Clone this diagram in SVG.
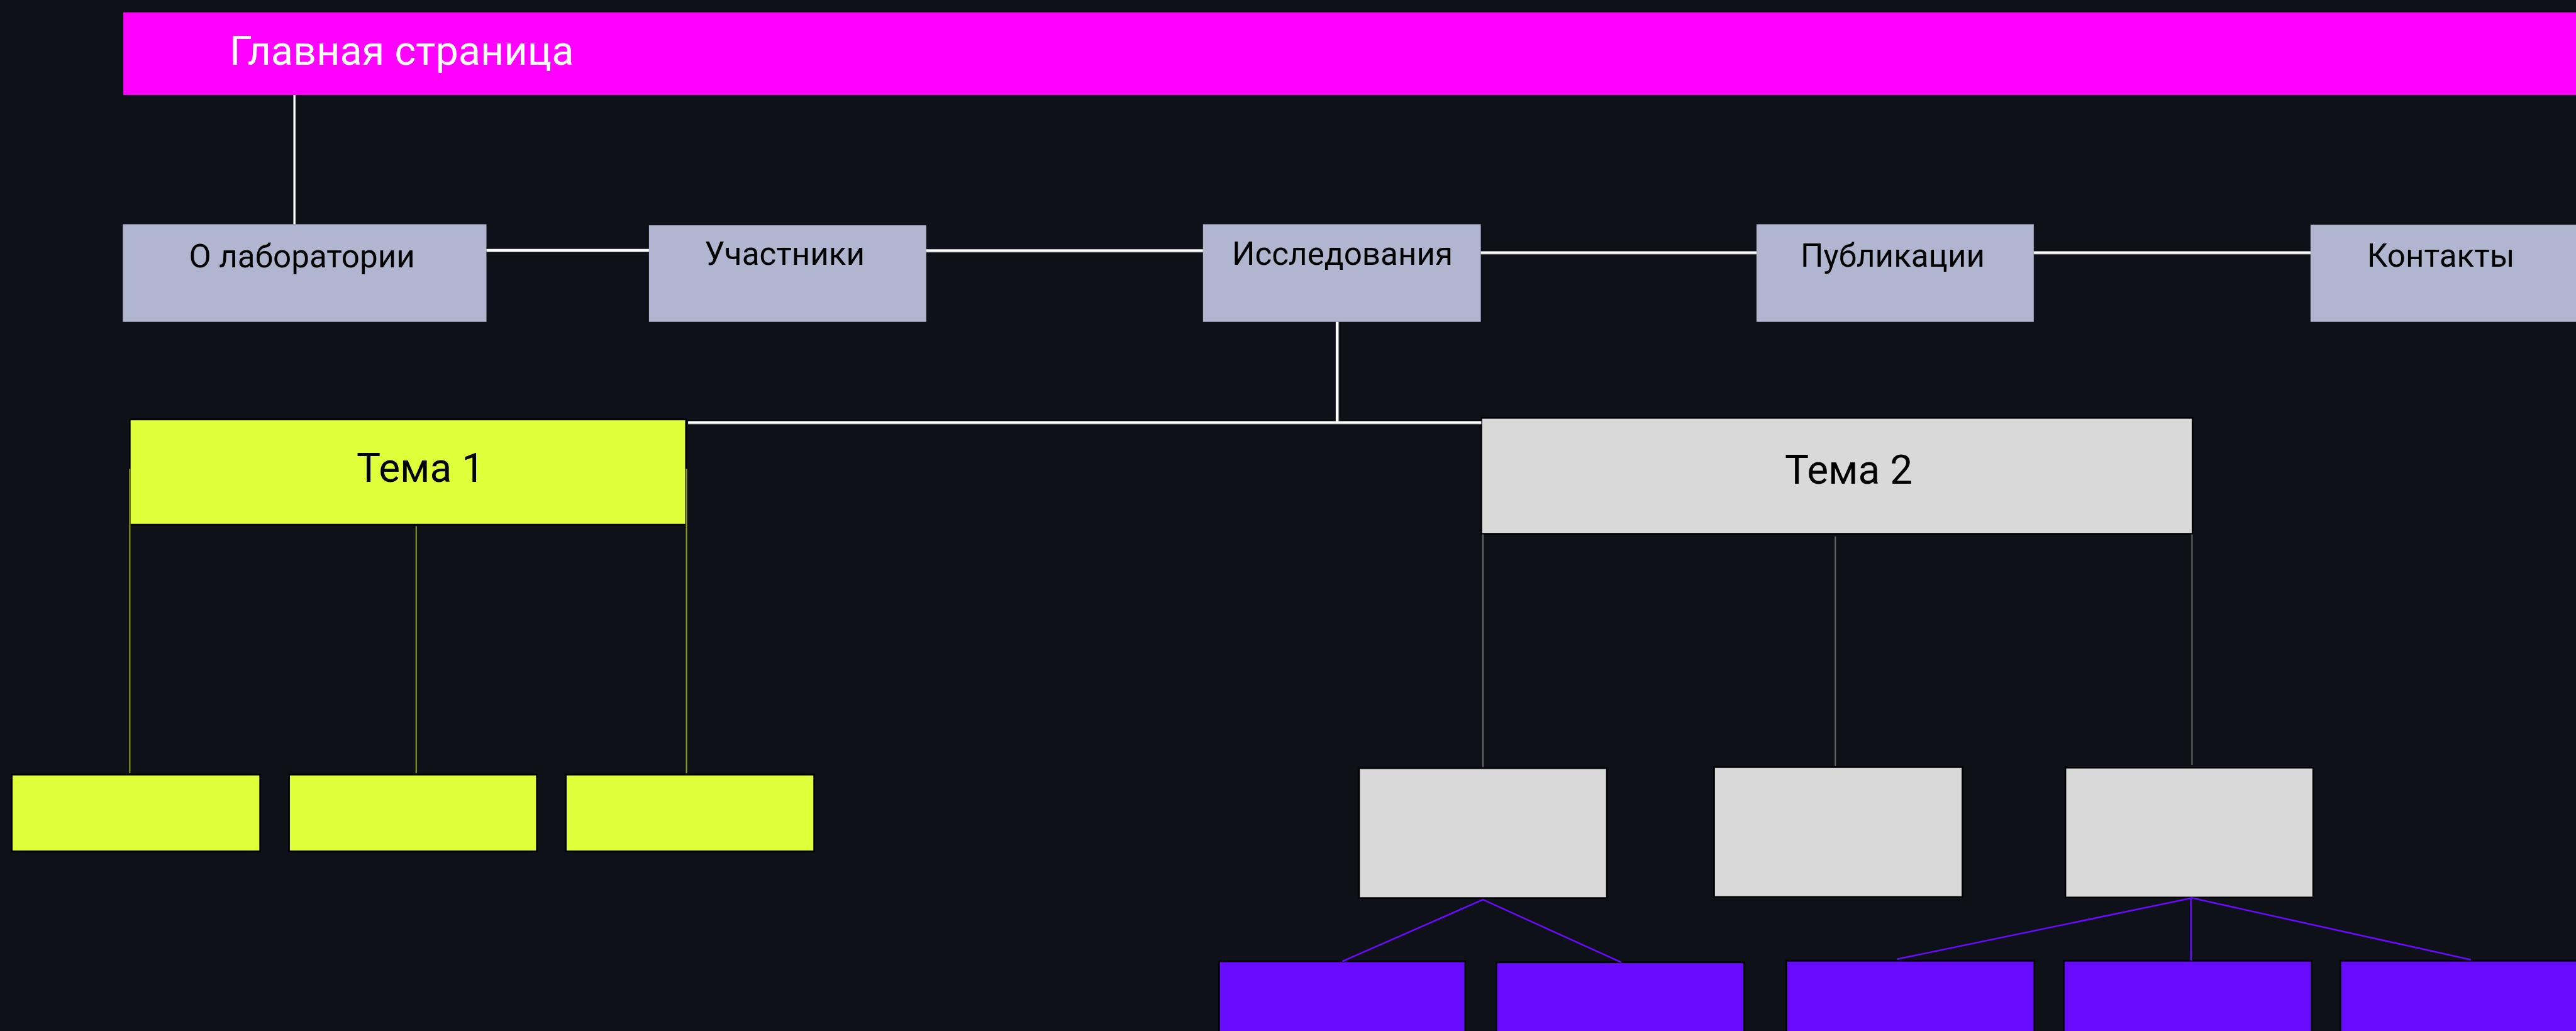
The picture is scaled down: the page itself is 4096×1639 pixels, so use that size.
<svg xmlns="http://www.w3.org/2000/svg" width="4096" height="1639" viewBox="0 0 4096 1639">
<style>
.t{font-family:Roboto,"Noto Sans",sans-serif;text-anchor:middle;fill:#000}
.menu rect{fill:#b0b6cf}
.menu text{font-size:60px}
.topic text{font-size:75px}
.yel{fill:#dfff3b;stroke:#000;stroke-width:3}
.gry{fill:#d9d9d9;stroke:#000;stroke-width:3}
.pur{fill:#690bff;stroke:#000;stroke-width:3}
.w{stroke:#fff;stroke-width:5;fill:none}
.ws{stroke:#6b6b6b;stroke-width:1.5;fill:none}
.ol{stroke:#8b9a20;stroke-width:2.5;fill:none}
.gl{stroke:#666;stroke-width:2.5;fill:none}
.pl{stroke:#690bff;stroke-width:3;fill:none}
</style>
<rect width="4096" height="1639" fill="#0e1117"/>
<g transform="scale(0.8528)">
<g id="home">
<rect x="230" y="23" width="4600" height="154" fill="#ff00ff"/>
<text x="428" y="121" font-family="Roboto,'Noto Sans',sans-serif" font-size="76" fill="#fff">Главная страница</text>
</g>
<g id="menu" class="menu">
<g id="about"><rect x="229" y="418" width="678" height="182"/><text class="t" x="563" y="498">О лаборатории</text></g>
<g id="members"><rect x="1210" y="420" width="517" height="180"/><text class="t" x="1463" y="494">Участники</text></g>
<g id="research"><rect x="2243" y="418" width="518" height="182"/><text class="t" x="2503" y="494">Исследования</text></g>
<g id="pubs"><rect x="3275" y="418" width="517" height="182"/><text class="t" x="3529" y="497">Публикации</text></g>
<g id="contacts"><rect x="4308" y="419" width="530" height="181"/><text class="t" x="4551" y="497">Контакты</text></g>
</g>
<g id="topic1" class="topic"><rect class="yel" x="242" y="782" width="1037" height="196"/><text class="t" x="784" y="898">Тема 1</text></g>
<g id="topic2" class="topic"><rect class="gry" x="2762" y="779" width="1326" height="216"/><text class="t" x="3447" y="902">Тема 2</text></g>
<g id="t1-sub">
<rect id="t1a" class="yel" x="22" y="1444" width="463" height="143"/>
<rect id="t1b" class="yel" x="539" y="1444" width="462" height="143"/>
<rect id="t1c" class="yel" x="1055" y="1444" width="463" height="143"/>
</g>
<g id="t2-sub">
<rect id="t2a" class="gry" x="2534" y="1432" width="462" height="242"/>
<rect id="t2b" class="gry" x="3196" y="1430" width="463" height="242"/>
<rect id="t2c" class="gry" x="3851" y="1431" width="462" height="242"/>
</g>
<g id="t2-leaf">
<rect id="p1" class="pur" x="2273" y="1792" width="459" height="200"/>
<rect id="p2" class="pur" x="2790" y="1794" width="462" height="200"/>
<rect id="p3" class="pur" x="3331" y="1791" width="462" height="200"/>
<rect id="p4" class="pur" x="3848" y="1791" width="462" height="200"/>
<rect id="p5" class="pur" x="4364" y="1791" width="500" height="200"/>
</g>
<g id="connectors">
<line class="w" x1="549" y1="177" x2="549" y2="418" style="stroke-width:4"/>
<line class="ws" x1="907" y1="469.5" x2="1210" y2="469.5"/>
<line class="w" x1="907" y1="466.5" x2="1210" y2="466.5"/>
<line class="ws" x1="1727" y1="470" x2="2243" y2="470"/>
<line class="w" x1="1727" y1="467" x2="2243" y2="467"/>
<line class="ws" x1="2761" y1="474" x2="3275" y2="474"/>
<line class="w" x1="2761" y1="471" x2="3275" y2="471"/>
<line class="ws" x1="3792" y1="474" x2="4308" y2="474"/>
<line class="w" x1="3792" y1="471" x2="4308" y2="471"/>
<line class="ws" x1="2496" y1="600" x2="2496" y2="785"/>
<line class="w" x1="2493" y1="600" x2="2493" y2="787"/>
<line class="ws" x1="1283" y1="790.5" x2="2762" y2="790.5"/>
<line class="w" x1="1283" y1="787.5" x2="2762" y2="787.5"/>
<line class="ol" x1="242" y1="874" x2="242" y2="1441"/>
<line class="ol" x1="776" y1="981" x2="776" y2="1441"/>
<line class="ol" x1="1280" y1="874" x2="1280" y2="1441"/>
<line class="gl" x1="2765" y1="996" x2="2765" y2="1430"/>
<line class="gl" x1="3422" y1="1000" x2="3422" y2="1428"/>
<line class="gl" x1="4087" y1="996" x2="4087" y2="1426"/>
<polyline class="pl" points="2503,1792 2765,1677 3023,1794"/>
<polyline class="pl" points="3537,1788 4087,1674 4607,1789"/>
<line class="pl" x1="4085" y1="1675" x2="4085" y2="1790"/>
</g>
</g>
</svg>
